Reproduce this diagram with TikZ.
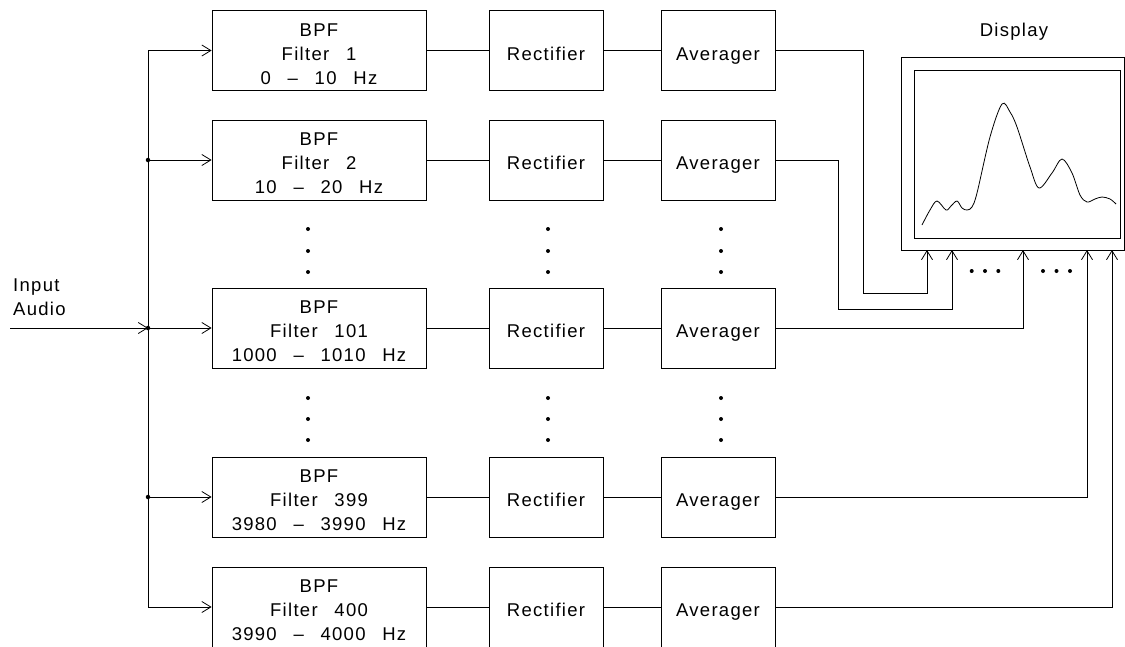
\documentclass[tikz,border=0pt]{standalone}
\usepackage{fontspec}
\setmainfont{Liberation Sans}[LetterSpace=7,WordSpace=2.6]
\usetikzlibrary{arrows.meta}
% extra room above the first text line, so the lines sit a little low in their box
\newcommand\topgap{\rule{0pt}{19.5pt}}

\begin{document}
\begin{tikzpicture}[x=1pt,y=-1pt,
  every node/.style={font=\fontsize{18.5}{24}\selectfont},
  blk/.style={draw,line width=0.8pt,inner sep=0pt,align=center},
  fbox/.style={blk,minimum width=214pt,minimum height=80pt},
  sbox/.style={blk,minimum width=114pt,minimum height=80pt,
    text height=19.5pt,text depth=0pt},
  wire/.style={line width=0.8pt},
  arr/.style={wire,-{Straight Barb[length=9pt,width=11pt]}},
  jdot/.style={circle,fill,inner sep=0pt,minimum size=4.5pt}]

\clip (0,0) rectangle (1125,646);

% filter bank rows: filter, rectifier, averager
\node[fbox] (f1) at (319,50.5) {\topgap BPF\\Filter 1\\0 -- 10 Hz};
\node[fbox] (f2) at (319,160) {\topgap BPF\\Filter 2\\10 -- 20 Hz};
\node[fbox] (f3) at (319,328) {\topgap BPF\\Filter 101\\1000 -- 1010 Hz};
\node[fbox] (f4) at (319,497) {\topgap BPF\\Filter 399\\3980 -- 3990 Hz};
\node[fbox] (f5) at (319,607) {\topgap BPF\\Filter 400\\3990 -- 4000 Hz};

\foreach \i/\y in {1/50.5,2/160,3/328,4/497,5/607}{
  \node[sbox] (r\i) at (546,\y) {Rectifier};
  \node[sbox] (a\i) at (718,\y) {Averager};
  \draw[wire] (f\i.east) -- (r\i.west);
  \draw[wire] (r\i.east) -- (a\i.west);
}

% vertical ellipses between rows
\foreach \x in {308,548,721}{
  \foreach \y in {229,251,272,398,419,440}{
    \node[jdot,minimum size=4pt] at (\x,\y) {};
  }
}

% input bus
\coordinate (src) at (10,328);
\foreach \i/\y in {1/50.5,2/160,3/328,4/497,5/607}{
  \coordinate (b\i) at (148,\y);
  \draw[arr] (b\i) -- (f\i.west);
}
\draw[wire] (b1) -- (b5);
\draw[arr] (src) -- (b3);
\foreach \i in {2,3,4}{ \node[jdot] at (b\i) {}; }
\node[anchor=north west,inner sep=0pt,align=left] (inlbl) at (13,279) {Input\\Audio};

% display unit
\node[draw,line width=0.8pt,minimum width=223pt,minimum height=193pt,inner sep=0pt] (disp) at (1012.5,153.5) {};
\node[draw,line width=0.8pt,minimum width=206pt,minimum height=168pt,inner sep=0pt] (scr) at (1017,154) {};
\node[anchor=base] (dlbl) at (1014,36) {Display};
\draw[line width=0.8pt] plot[smooth,tension=0.55] coordinates {
  (922,225) (930,210) (937,201) (946,210) (951,206) (957,201) (962,208) (967,210) (972,207)
  (977,193) (990,137) (1002,104) (1010,112) (1017,127) (1030,167) (1039,188)
  (1052,173) (1062,159) (1072,173) (1080,195) (1087,202) (1095,199) (1102,197) (1110,199) (1116,204)};

% display inputs
\coordinate (d1) at (927,250);
\coordinate (d2) at (952,250);
\coordinate (d3) at (1023,250);
\coordinate (d4) at (1087,250);
\coordinate (d5) at (1112,250);
\coordinate (k1) at (863,293);
\coordinate (k2) at (838,309);
\draw[arr] (a1.east) -| (k1) -| (d1);
\draw[arr] (a2.east) -| (k2) -| (d2);
\draw[arr] (a3.east) -| (d3);
\draw[arr] (a4.east) -| (d4);
\draw[arr] (a5.east) -| (d5);

% horizontal ellipses among display inputs
\foreach \x in {971.7,985,998.3,1043,1056.5,1070}{
  \node[jdot,minimum size=4pt] at (\x,271) {};
}
\end{tikzpicture}
\end{document}
